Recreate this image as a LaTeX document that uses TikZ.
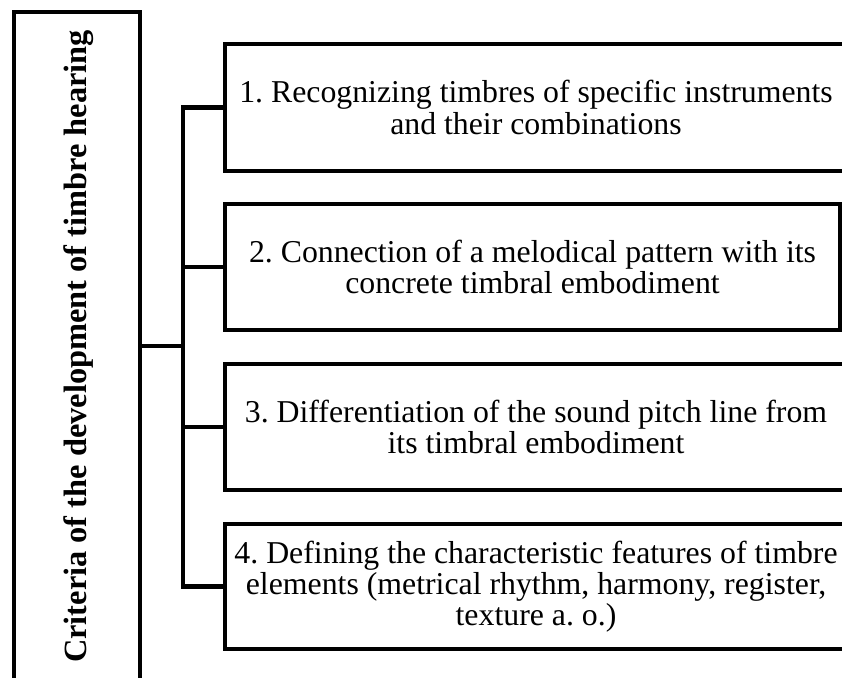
\documentclass[tikz,border=0pt]{standalone}
\usepackage{fontspec}
\setmainfont{Liberation Serif}
\frenchspacing
\begin{document}
\begin{tikzpicture}[x=1pt,y=-1pt,
  lw/.style={line width=4.3pt},
  box/.style={draw, lw, inner sep=0pt, align=center, font=\fontsize{31.8}{31.3}\selectfont},
  conn/.style={draw, lw}]
\useasboundingbox (0,0) rectangle (842,677);
\clip (0,0) rectangle (842,677);
\node[box, minimum width=126pt, minimum height=708pt] (crit) at (77,366) {};
\node[rotate=90, font=\bfseries\fontsize{32.4}{32}\selectfont, inner sep=0pt] (title) at (79,346.5) {Criteria of the development of timbre hearing};
\node[box, minimum width=622pt, minimum height=127pt] (b1) at (536,107.5) {1. Recognizing timbres of specific instruments\\and their combinations};
\node[box, minimum width=615pt, minimum height=126pt] (b2) at (532.5,267) {2. Connection of a melodical pattern with its\\concrete timbral embodiment};
\node[box, minimum width=622pt, minimum height=126pt] (b3) at (536,427) {3. Differentiation of the sound pitch line from\\its timbral embodiment};
\node[box, minimum width=622pt, minimum height=125pt] (b4) at (536,586.5) {4. Defining the characteristic features of timbre\\elements (metrical rhythm, harmony, register,\\texture a. o.)};
\coordinate (j) at (183,346);
\path[conn] (b1.west) -- (b1.west -| j) -- (b4.west -| j) -- (b4.west);
\path[conn] (b2.west) -- (b2.west -| j);
\path[conn] (b3.west) -- (b3.west -| j);
\path[conn] (crit.east |- j) -- (j);
\end{tikzpicture}
\end{document}
